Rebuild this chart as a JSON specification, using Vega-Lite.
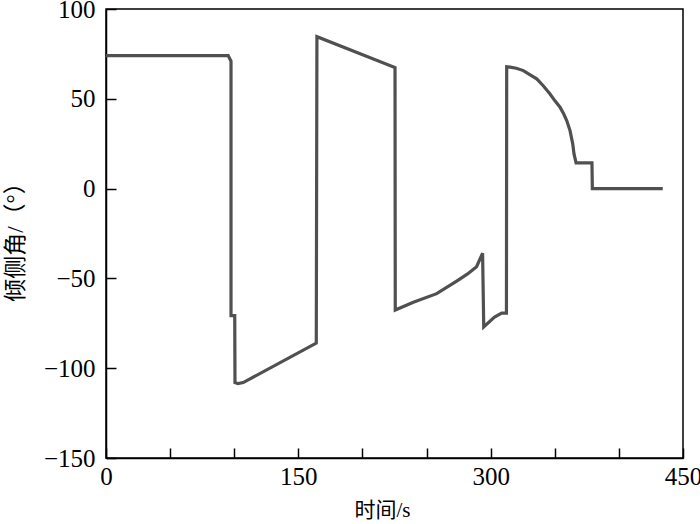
{
  "$schema": "https://vega.github.io/schema/vega-lite/v6.json",
  "width": 577,
  "height": 449,
  "autosize": {"type": "none"},
  "padding": {"left": 106, "top": 9, "right": 17, "bottom": 66},
  "background": "white",
  "config": {
    "view": {"stroke": "black", "strokeWidth": 1.5},
    "axis": {
      "grid": false,
      "domainColor": "black",
      "domainWidth": 1.5,
      "tickColor": "black",
      "tickWidth": 1.5,
      "tickSize": -10,
      "labelFont": "Liberation Serif",
      "labelFontSize": 25,
      "labelColor": "black",
      "titleFont": "Liberation Serif, Noto Sans CJK SC",
      "titleFontSize": 21,
      "titleFontWeight": "normal",
      "titleColor": "black"
    }
  },
  "data": {
    "values": [
      {"i": 0, "t": 0, "v": 74},
      {"i": 1, "t": 95.3, "v": 74},
      {"i": 2, "t": 97.5, "v": 71},
      {"i": 3, "t": 97.5, "v": -70.7},
      {"i": 4, "t": 100.4, "v": -70.7},
      {"i": 5, "t": 100.6, "v": -108},
      {"i": 6, "t": 103, "v": -108.6},
      {"i": 7, "t": 107, "v": -108},
      {"i": 8, "t": 164, "v": -86},
      {"i": 9, "t": 164.5, "v": 84.6},
      {"i": 10, "t": 225.4, "v": 67.4},
      {"i": 11, "t": 225.6, "v": -67.6},
      {"i": 12, "t": 239.7, "v": -63.3},
      {"i": 13, "t": 257.9, "v": -58.5},
      {"i": 14, "t": 273.5, "v": -51.5},
      {"i": 15, "t": 282, "v": -47.5},
      {"i": 16, "t": 289, "v": -43.5},
      {"i": 17, "t": 293.7, "v": -36},
      {"i": 18, "t": 294.6, "v": -77},
      {"i": 19, "t": 303, "v": -71.5},
      {"i": 20, "t": 308.6, "v": -69.3},
      {"i": 21, "t": 312.3, "v": -69.3},
      {"i": 22, "t": 312.5, "v": 67.8},
      {"i": 23, "t": 315.1, "v": 67.6},
      {"i": 24, "t": 320, "v": 67},
      {"i": 25, "t": 325.5, "v": 65.7},
      {"i": 26, "t": 330.5, "v": 63.5},
      {"i": 27, "t": 335.9, "v": 61.1},
      {"i": 28, "t": 341, "v": 57.3},
      {"i": 29, "t": 346.3, "v": 52.7},
      {"i": 30, "t": 350, "v": 49},
      {"i": 31, "t": 354.1, "v": 45.3},
      {"i": 32, "t": 357, "v": 41.5},
      {"i": 33, "t": 359.3, "v": 37.9},
      {"i": 34, "t": 361.9, "v": 32.3},
      {"i": 35, "t": 364, "v": 24.9},
      {"i": 36, "t": 365, "v": 19.3},
      {"i": 37, "t": 366.6, "v": 14.3},
      {"i": 38, "t": 379, "v": 14.3},
      {"i": 39, "t": 379.3, "v": 0},
      {"i": 40, "t": 434.2, "v": 0}
    ]
  },
  "mark": {"type": "line", "color": "#505050", "strokeWidth": 3.2, "strokeJoin": "miter"},
  "encoding": {
    "x": {
      "field": "t",
      "type": "quantitative",
      "scale": {"domain": [0, 450], "nice": false, "zero": false},
      "axis": {
        "values": [0, 50, 100, 150, 200, 250, 300, 350, 400, 450],
        "labelExpr": "datum.value % 150 === 0 ? datum.label : ''",
        "labelPadding": 16,
        "labelFlush": false,
        "labelOverlap": false,
        "title": "时间/s",
        "titleFontSize": 21,
        "titleX": 276,
        "titleY": 52,
        "titleBaseline": "middle",
        "titleAlign": "center"
      }
    },
    "y": {
      "field": "v",
      "type": "quantitative",
      "scale": {"domain": [-150, 100], "nice": false, "zero": false},
      "axis": {
        "values": [-150, -100, -50, 0, 50, 100],
        "labelPadding": 21,
        "labelFlush": false,
        "labelOverlap": false,
        "title": "倾侧角/（°）",
        "titleFontSize": 23,
        "titleX": -91,
        "titleY": 227,
        "titleBaseline": "middle",
        "titleAlign": "center",
        "titleAngle": -90
      }
    },
    "order": {"field": "i", "type": "quantitative"}
  }
}
